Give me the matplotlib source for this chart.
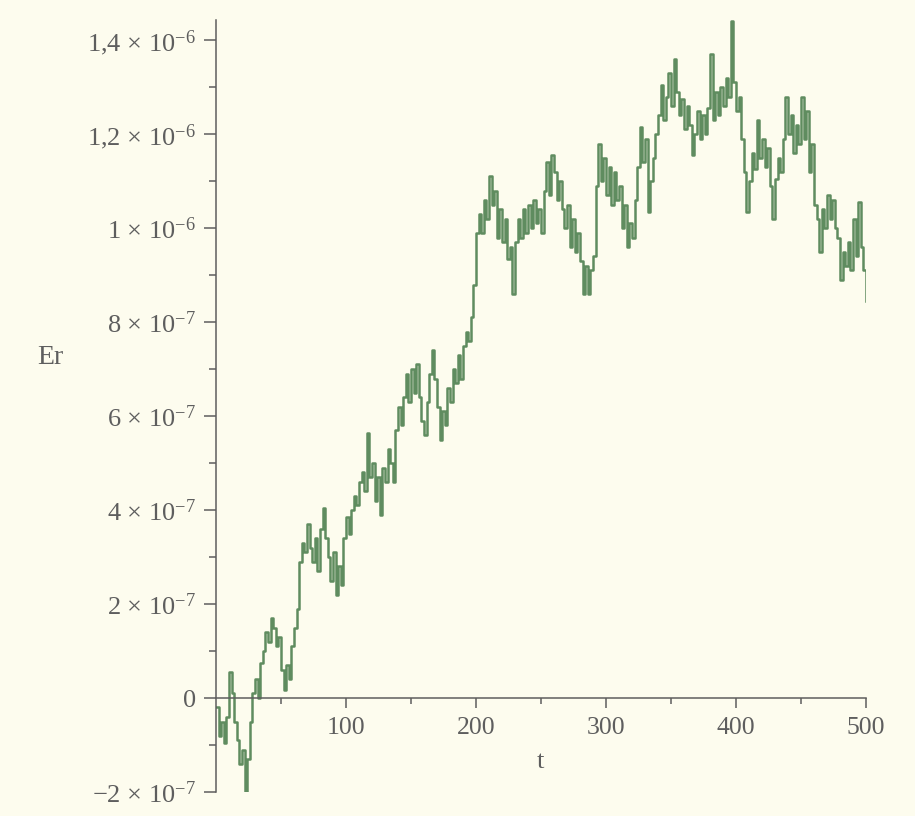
import numpy as np
import matplotlib
matplotlib.use("Agg")
import matplotlib.pyplot as plt
from matplotlib.ticker import MultipleLocator, FixedLocator, FixedFormatter

# Er values (units of 1e-7), sampled every 2 time units from t=0 to t=500
er = [
    -0.2, -0.8, -0.5, -0.95, -0.4, 0.55, 0.1, -0.5, -0.9, -1.4,
    -1.1, -2.0, -1.3, -0.5, 0.1, 0.4, 0.0, 0.75, 1.0, 1.4,
    1.2, 1.7, 1.5, 1.1, 1.3, 0.6, 0.17, 0.7, 0.4, 1.1,
    1.5, 1.9, 2.9, 3.3, 3.1, 3.7, 3.2, 2.9, 3.4, 2.7,
    3.6, 4.05, 3.4, 3.0, 2.5, 3.1, 2.2, 2.8, 2.4, 3.4,
    3.85, 3.5, 4.0, 4.3, 4.1, 4.6, 4.8, 4.4, 5.65, 4.7,
    5.0, 4.2, 4.7, 3.9, 4.9, 4.6, 5.3, 5.0, 4.6, 5.7,
    6.2, 5.8, 6.4, 6.9, 6.3, 7.0, 6.5, 7.1, 6.4, 5.9,
    5.6, 6.3, 6.9, 7.4, 6.8, 6.2, 5.5, 6.1, 5.8, 6.6,
    6.3, 7.0, 6.7, 7.3, 6.8, 7.5, 7.8, 7.6, 8.1, 8.8,
    9.9, 10.3, 9.9, 10.6, 10.2, 11.1, 10.5, 10.8, 9.8, 10.4,
    9.7, 10.2, 9.35, 9.6, 8.6, 9.7, 10.2, 9.8, 10.4, 9.9,
    10.5, 10.0, 10.6, 10.1, 10.4, 9.9, 10.8, 11.4, 10.7, 11.55,
    11.2, 10.6, 11.0, 10.4, 10.0, 10.5, 9.6, 10.2, 9.5, 9.9,
    9.3, 8.6, 9.2, 8.6, 9.1, 9.4, 10.9, 11.8, 11.0, 11.5,
    10.7, 11.3, 10.5, 11.2, 10.6, 10.9, 10.0, 10.5, 9.6, 10.1,
    9.8, 10.6, 11.3, 12.15, 11.4, 11.9, 10.35, 11.0, 11.5, 12.0,
    12.4, 13.05, 12.3, 12.8, 13.3, 12.6, 13.6, 12.9, 12.4, 12.75,
    12.1, 12.6, 12.2, 11.55, 12.0, 12.5, 11.9, 12.4, 12.0, 12.55,
    13.7, 12.3, 12.9, 12.4, 13.0, 12.6, 13.2, 12.8, 14.4, 13.1,
    12.5, 12.8, 11.9, 11.2, 10.35, 11.0, 11.6, 11.25, 12.3, 11.5,
    11.9, 11.3, 11.7, 10.9, 10.2, 11.05, 11.5, 11.2, 11.9, 12.8,
    12.0, 12.4, 11.6, 12.2, 11.8, 12.8, 11.9, 12.5, 11.2, 11.8,
    10.5, 10.2, 9.5, 10.4, 10.0, 10.7, 10.2, 10.6, 10.0, 9.8,
    8.9, 9.5, 9.2, 9.7, 9.1, 10.2, 9.4, 10.55, 9.6, 9.1,
    8.45,
]
t = np.arange(len(er)) * 2

ytick_vals = [-2e-7, 0, 2e-7, 4e-7, 6e-7, 8e-7, 1e-6, 1.2e-6, 1.4e-6]
ytick_labels = [r"$-$2 × $10^{-7}$", "0", r"2 × $10^{-7}$", r"4 × $10^{-7}$",
                r"6 × $10^{-7}$", r"8 × $10^{-7}$", r"1 × $10^{-6}$",
                r"1,2 × $10^{-6}$", r"1,4 × $10^{-6}$"]
xtick_vals = [100, 200, 300, 400, 500]

plt.rcParams["font.family"] = ["Liberation Serif", "DejaVu Serif"]
plt.rcParams["mathtext.fontset"] = "custom"
plt.rcParams["mathtext.rm"] = "Liberation Serif"
plt.rcParams["mathtext.it"] = "Liberation Serif:italic"

bg = "#fdfcee"
gray = "#5e5e5e"

fig = plt.figure(figsize=(9.15, 8.16), dpi=100, facecolor=bg)
ax = fig.add_axes([216 / 915, 24 / 816, 650 / 915, 772 / 816])
ax.set_facecolor(bg)

ax.plot(t, np.array(er) * 1e-7, color="#5f8c5f", lw=1.8, drawstyle="steps-post")

ax.set_xlim(0, 500)
ax.set_ylim(-2e-7, 14.43e-7)

for s in ["top", "right"]:
    ax.spines[s].set_visible(False)
ax.spines["bottom"].set_position(("data", 0))
for s in ["left", "bottom"]:
    ax.spines[s].set_color(gray)
    ax.spines[s].set_linewidth(1.1)

ax.yaxis.set_major_locator(FixedLocator(ytick_vals))
ax.yaxis.set_major_formatter(FixedFormatter(ytick_labels))
ax.yaxis.set_minor_locator(MultipleLocator(1e-7))
ax.xaxis.set_major_locator(FixedLocator(xtick_vals))
ax.xaxis.set_minor_locator(FixedLocator([50, 150, 250, 350, 450]))

ax.tick_params(axis="y", which="major", direction="out", length=8.5, width=1.1,
               color=gray, labelcolor=gray, labelsize=19, pad=6)
ax.tick_params(axis="y", which="minor", direction="out", length=5, width=1.1, color=gray)
ax.tick_params(axis="x", which="major", direction="out", length=7, width=1.1,
               color=gray, labelcolor=gray, labelsize=18.5, pad=7)
ax.tick_params(axis="x", which="minor", direction="out", length=4, width=1.1, color=gray)

fig.text(540 / 915, 1 - 762 / 816, "t", fontsize=19, color=gray, ha="center", va="center")
fig.text(50 / 915, 1 - 357 / 816, "Er", fontsize=20, color=gray, ha="center", va="center")

fig.savefig("out.png", dpi=100, facecolor=bg)
